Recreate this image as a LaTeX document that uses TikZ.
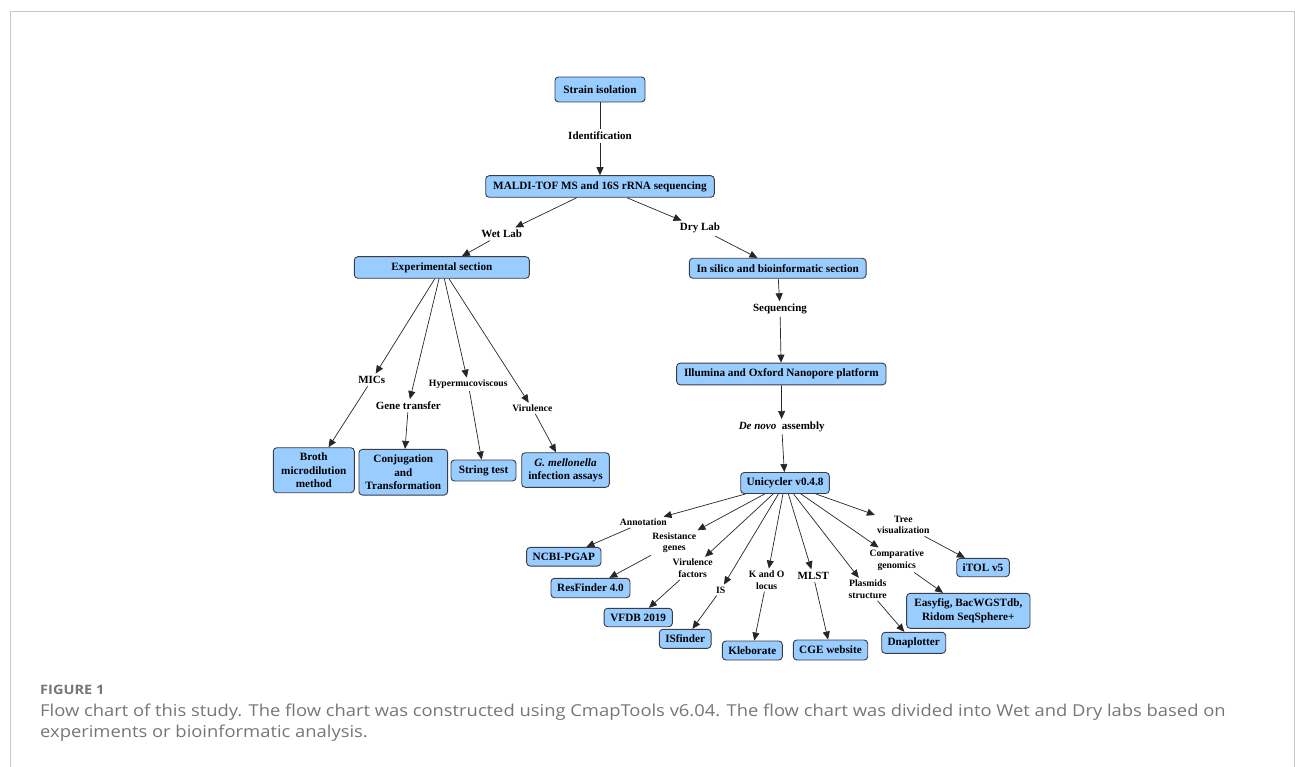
\documentclass[tikz,border=0pt]{standalone}
\usepackage{fontspec}
\setmainfont{Liberation Serif}
\newfontfamily\capfont{Open Sans}[FakeStretch=1.12]
\usetikzlibrary{arrows.meta}
\definecolor{boxblue}{RGB}{153,204,255}
\definecolor{boxedge}{RGB}{60,60,70}
\definecolor{capgray}{RGB}{118,118,118}
\definecolor{framegray}{RGB}{200,200,200}
\tikzset{
  box/.style={draw=boxedge, fill=boxblue, rounded corners=3.5pt, line width=0.9pt,
    font=\bfseries\fontsize{11.2}{13.3}\selectfont, align=center, inner sep=0pt},
  lbl/.style={font=\bfseries\fontsize{11}{12.5}\selectfont, align=center, inner sep=2.5pt},
  slbl/.style={font=\bfseries\fontsize{9.7}{11.7}\selectfont, align=center, inner sep=2pt},
  arr/.style={-{Triangle[length=8pt,width=7pt]}, line width=0.7pt, draw=black!85},
  ln/.style={line width=0.7pt, draw=black!85},
  captxt/.style={anchor=base west, inner sep=0pt, text=capgray, font=\capfont\fontsize{16.4}{19}\selectfont}
}
\begin{document}
\begin{tikzpicture}[x=1pt,y=-1pt]
\useasboundingbox (0,0) rectangle (1295,767);
% frame
\draw[framegray, line width=1pt] (10,767) -- (10,12) -- (1294,12) -- (1294,767);

% top
\node[box, minimum width=90pt, minimum height=25pt] (strain) at (600,89.5) {Strain isolation};
\node[lbl] (ident) at (600,136) {Identification};
\node[box, minimum width=228.6pt, minimum height=21.6pt] (maldi) at (600,186.5) {MALDI-TOF MS and 16S rRNA sequencing};
\node[lbl] (wet) at (501.7,234) {Wet Lab};
\node[lbl] (dry) at (700,228.3) {Dry Lab};

% wet lab
\node[box, minimum width=175pt, minimum height=21.6pt] (exp) at (441.8,267.5) {Experimental section};
\node[lbl] (mics) at (371.7,380) {MICs};
\node[lbl] (gene) at (408.3,405.7) {Gene transfer};
\node[slbl] (hyper) at (468.3,384.3) {Hypermucoviscous};
\node[slbl] (viru) at (532.3,408.3) {Virulence};
\node[box, minimum width=81pt, minimum height=45pt] (broth) at (313.8,470.2) {Broth\\microdilution\\method};
\node[box, minimum width=88.7pt, minimum height=45.7pt] (conj) at (403.3,472.2) {Conjugation\\and\\Transformation};
\node[box, minimum width=65pt, minimum height=21pt] (string) at (483.5,470.5) {String test};
\node[box, minimum width=87.6pt, minimum height=34.6pt] (gmel) at (565.5,470) {\textit{G. mellonella}\\infection assays};

% dry lab
\node[box, minimum width=176.7pt, minimum height=20pt] (insilico) at (777.7,268.3) {In silico and bioinformatic section};
\node[lbl] (seq) at (780,309) {Sequencing};
\node[box, minimum width=209.3pt, minimum height=21.7pt] (illu) at (781.3,374) {Illumina and Oxford Nanopore platform};
\node[lbl] (denovo) at (781.7,426.7) {\textit{De novo}\ \ assembly};
\node[box, minimum width=88.6pt, minimum height=21pt] (uni) at (785,483) {Unicycler v0.4.8};

\node[slbl] (annot) at (643.3,522.3) {Annotation};
\node[slbl] (resg) at (674.3,542.7) {Resistance\\genes};
\node[slbl] (virf) at (692.7,568.3) {Virulence\\factors};
\node[slbl] (is) at (720.7,590) {IS};
\node[slbl] (ko) at (766.7,580) {K and O\\locus};
\node[lbl] (mlst) at (813.3,575.7) {MLST};
\node[slbl] (plas) at (867.7,589.3) {Plasmids\\structure};
\node[slbl] (comp) at (896.7,560) {Comparative\\genomics};
\node[slbl] (tree) at (903.3,525) {Tree\\visualization};

\node[box, minimum width=74.3pt, minimum height=18.7pt] (ncbi) at (563.8,556.7) {NCBI-PGAP};
\node[box, minimum width=79pt, minimum height=19.4pt] (resf) at (590.5,588) {ResFinder 4.0};
\node[box, minimum width=68.3pt, minimum height=18.4pt] (vfdb) at (638.2,617.5) {VFDB 2019};
\node[box, minimum width=51.7pt, minimum height=19pt] (isf) at (685.2,638.8) {ISfinder};
\node[box, minimum width=60pt, minimum height=19pt] (kleb) at (752.3,650.5) {Kleborate};
\node[box, minimum width=74.4pt, minimum height=20pt] (cge) at (830.5,650) {CGE website};
\node[box, minimum width=64pt, minimum height=21pt] (dnap) at (913.7,642.8) {Dnaplotter};
\node[box, minimum width=123.3pt, minimum height=35pt] (easy) at (968.3,610.8) {Easyfig, BacWGSTdb,\\Ridom SeqSphere+};
\node[box, minimum width=52.6pt, minimum height=18.4pt] (itol) at (983,567.5) {iTOL v5};

% connectors top
\draw[ln] (strain) -- (ident);
\draw[arr] (ident) -- (maldi);
\draw[arr] (maldi) -- (wet);
\draw[arr] (wet) -- (exp);
\draw[arr] (maldi) -- (dry);
\draw[arr] (dry) -- (insilico);

% wet
\draw[arr] (exp) -- (mics);
\draw[arr] (exp) -- (gene);
\draw[arr] (exp) -- (hyper);
\draw[arr] (exp) -- (viru);
\draw[arr] (mics) -- (broth);
\draw[arr] (gene) -- (conj);
\draw[arr] (hyper) -- (string);
\draw[arr] (viru) -- (gmel);

% dry
\draw[arr] (insilico) -- (seq);
\draw[arr] (seq) -- (illu);
\draw[arr] (illu) -- (denovo);
\draw[arr] (denovo) -- (uni);

\draw[arr] (uni) -- (annot);
\draw[arr] (uni) -- (resg);
\draw[arr] (uni) -- (virf);
\draw[arr] (uni) -- (is);
\draw[arr] (uni) -- (ko);
\draw[arr] (uni) -- (mlst);
\draw[arr] (uni) -- (plas);
\draw[arr] (uni) -- (comp);
\draw[arr] (uni) -- (tree);

\draw[arr] (annot) -- (ncbi);
\draw[arr] (resg) -- (resf);
\draw[arr] (virf) -- (vfdb);
\draw[arr] (is) -- (isf);
\draw[arr] (ko) -- (kleb);
\draw[arr] (mlst) -- (cge);
\draw[arr] (plas) -- (dnap);
\draw[arr] (comp) -- (easy);
\draw[arr] (tree) -- (itol);

% caption
\node[captxt, font=\capfont\bfseries\fontsize{13}{15}\selectfont] (fig) at (40,694.3) {FIGURE 1};
\node[captxt] (cap1) at (40,716) {Flow chart of this study. The flow chart was constructed using CmapTools v6.04. The flow chart was divided into Wet and Dry labs based on};
\node[captxt] (cap2) at (40,737) {experiments or bioinformatic analysis.};
\end{tikzpicture}
\end{document}
